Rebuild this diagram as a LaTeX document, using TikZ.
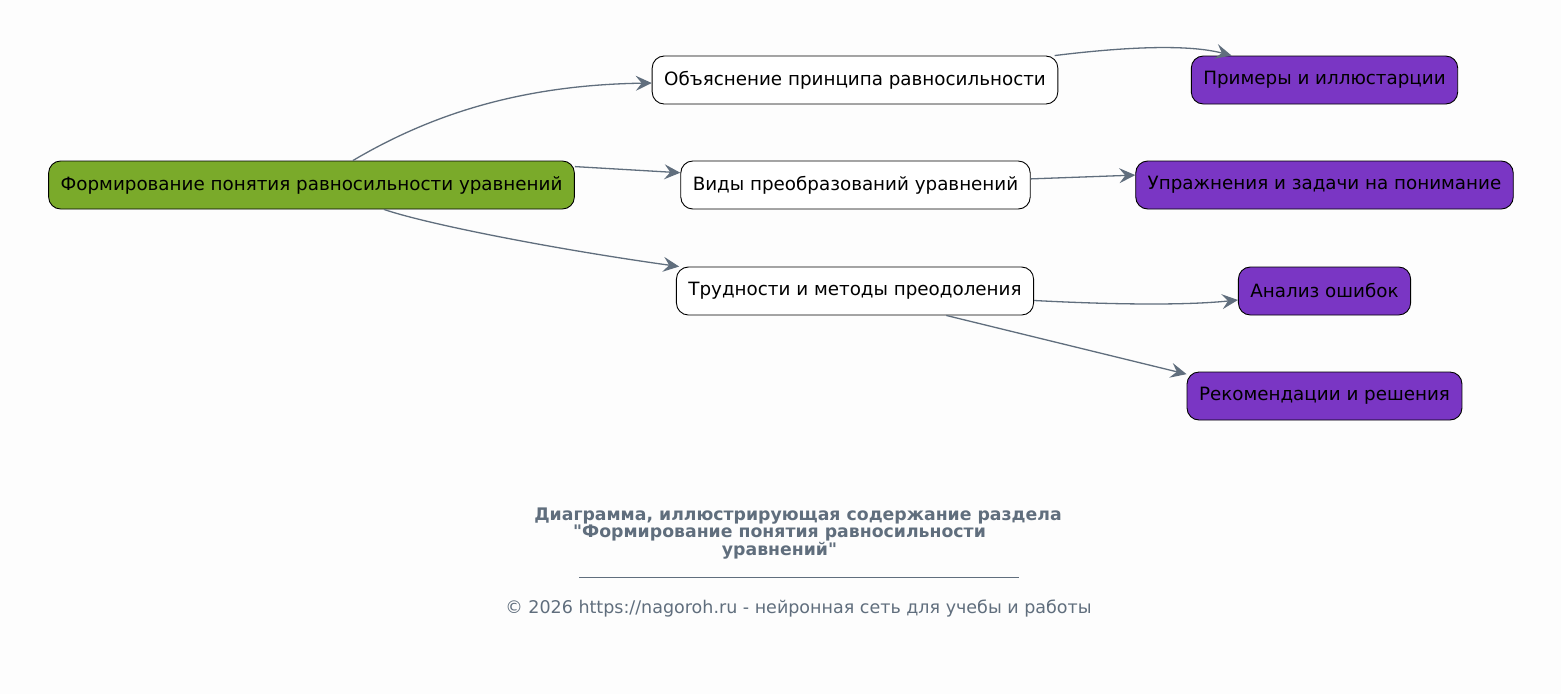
\documentclass[tikz,border=0pt]{standalone}
\usepackage{fontspec}
\setmainfont{DejaVu Sans}[Ligatures=TeXOff]
\usetikzlibrary{arrows.meta,positioning}

\definecolor{rootgreen}{RGB}{122,170,42}
\definecolor{leafviolet}{RGB}{122,54,196}
\definecolor{edgegray}{RGB}{96,110,125}
\definecolor{paper}{RGB}{253,253,253}

\begin{document}
\begin{tikzpicture}[
    x=1pt, y=-1pt,
    box/.style={draw, rounded corners=12pt, line width=0.9pt, align=center, minimum height=48pt, inner xsep=12pt, font=\fontsize{18.3}{22}\selectfont},
    link/.style={-{Stealth[length=16pt, width=15pt, inset=6pt]}, draw=edgegray, line width=1.3pt},
    caption/.style={text=edgegray, align=center}
]
\fill[paper] (0,0) rectangle (1561,694);
\useasboundingbox (0,0) rectangle (1561,694);

% left column
\node[box, fill=rootgreen] (root) at (311.5,185) {Формирование понятия равносильности уравнений};

% middle column
\node[box, fill=white] (expl) at (855,80) {Объяснение принципа равносильности};
\node[box, fill=white] (kinds) at (855.5,185) {Виды преобразований уравнений};
\node[box, fill=white] (diff) at (855,291) {Трудности и методы преодоления};

% right column
\node[box, fill=leafviolet] (ex) at (1324.5,80) {Примеры и иллюстарции};
\node[box, fill=leafviolet] (tasks) at (1324.5,185) {Упражнения и задачи на понимание};
\node[box, fill=leafviolet] (err) at (1324.5,291) {Анализ ошибок};
\node[box, fill=leafviolet] (rec) at (1324.5,396) {Рекомендации и решения};

\draw[link] (root) .. controls (430,115) and (520,85) .. (expl);
\draw[link] (root.4) -- (kinds.176);
\draw[link] (root) .. controls (430,225) and (560,250) .. (diff);
\draw[link] (expl) .. controls (1100,50) and (1180,42) .. (ex);
\draw[link] (kinds.2.3) -- (tasks.177);
\draw[link] (diff) .. controls (1100,304) and (1180,306) .. (err);
\draw[link] (diff.345.5) -- (rec.171.7);

% caption
\node[caption, font=\fontsize{17.3}{17.8}\selectfont\bfseries] (title) at (798,533.5)
  {Диаграмма, иллюстрирующая содержание раздела\\
   "Формирование понятия равносильности\makebox[37pt]{}\\
   уравнений"\makebox[37pt]{}};
\coordinate (ruleL) at (579,577);
\coordinate (ruleR) at (1019,577);
\draw[edgegray, line width=0.8pt] (ruleL) -- (ruleR);
\node[caption, font=\fontsize{17.5}{20}\selectfont] (copy) at (798.5,609)
  {© 2026 https://nagoroh.ru - нейронная сеть для учебы и работы};
\end{tikzpicture}
\end{document}
